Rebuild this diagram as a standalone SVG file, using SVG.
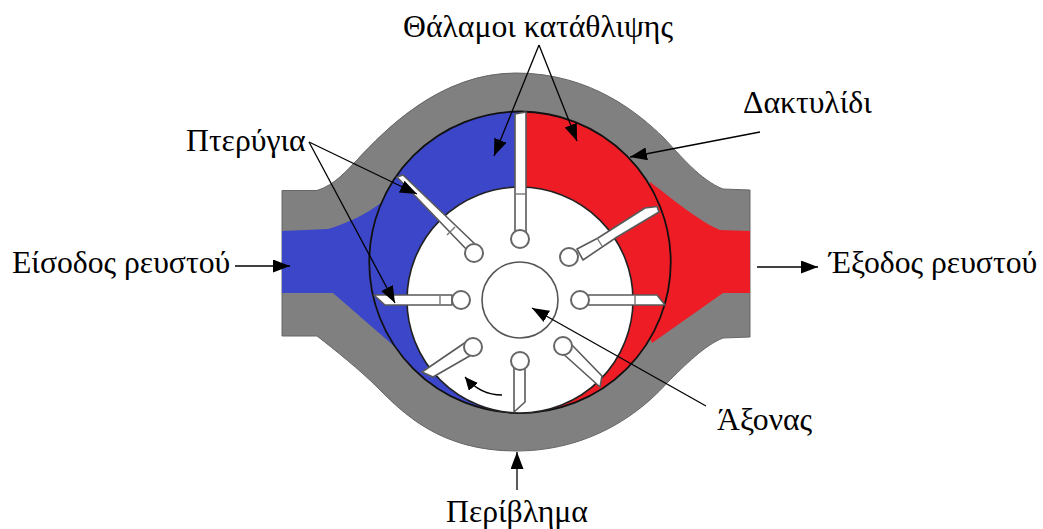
<svg xmlns="http://www.w3.org/2000/svg" width="1043" height="529" viewBox="0 0 1043 529">
<style>
text{font-family:"Liberation Serif","Times New Roman",serif;font-size:31.7px;fill:#000}
.vane{fill:#fff;stroke:#5a5a5a;stroke-width:1.6;stroke-linejoin:round}
.div{fill:none;stroke:#777;stroke-width:1.4}
.pin{fill:#fff;stroke:#666;stroke-width:2}
.conn{fill:none;stroke:#000;stroke-width:1.3}
</style>
<defs>
<marker id="ah" markerUnits="userSpaceOnUse" markerWidth="20" markerHeight="16" refX="17" refY="6.5" orient="auto">
<path d="M0 0L17 6.5L0 13Z" fill="#000"/>
</marker>
<marker id="ahs" markerUnits="userSpaceOnUse" markerWidth="16" markerHeight="14" refX="13" refY="6" orient="auto">
<path d="M0 0L13 6L0 12Z" fill="#000"/>
</marker>
</defs>
<g id="housing">
<path fill="#808080" stroke="#666" stroke-width="1" d="M282 190.5L317 190.5C335 185 347 170 357 160C385 130 440 73 516 73C592 73 640 115 663 137C680 155 700 180 723 189L750 190L750 337L723 338C705 345 685 365 667 383C650 402 600 451 516 451C440 451 403 413 377 387C360 370 335 350 317 336L282 336Z"/>
<path fill="#3c46c8" d="M282 231L328 229C345 224 365 215 381 203L420 270L394 346L333 293L282 293Z"/>
<path fill="#ee1c25" d="M750 231L720 230C700 222 670 197 650 182L620 270L652 343L723 293L750 293Z"/>
</g>
<g id="ring">
<path fill="#3c46c8" d="M520 111.5A150.75 150.75 0 0 0 520 413Z"/>
<path fill="#ee1c25" d="M520 111.5A150.75 150.75 0 0 1 520 413Z"/>
<circle cx="520" cy="262.25" r="150.75" fill="none" stroke="#111" stroke-width="1.8"/>
</g>
<g id="rotor">
<circle cx="520" cy="300" r="113" fill="#fff" stroke="#222" stroke-width="1.6"/>
</g>
<g id="vanes">
<path class="vane" d="M515 232L515 114L526 112L526 232Z"/>
<path class="div" d="M515 194H526"/>
<path class="vane" d="M468 251L397 177L403 175L477 246Z"/>
<path class="div" d="M447 235L455 227"/>
<path class="vane" d="M577 249L598 238L645 208L657 206.5L659 212L617 237L583 260Z"/>
<path class="div" d="M597 238L602 246"/>
<path class="vane" d="M374 295L452 295L452 305L385 305Z"/>
<path class="div" d="M440 295V305"/>
<path class="vane" d="M588 295L657 295L665 305L588 305Z"/>
<path class="div" d="M635 295V305"/>
<path class="vane" d="M466 342L422 372L433 377L473 354Z"/>
<path class="vane" d="M560 351L600 387L602 376L570 343Z"/>
<path class="vane" d="M514 365L514 412L525 402L525 365Z"/>
</g>
<g id="pins">
<circle class="pin" cx="520" cy="239" r="9"/>
<circle class="pin" cx="474" cy="253" r="9"/>
<circle class="pin" cx="569" cy="257" r="9"/>
<circle class="pin" cx="461" cy="300" r="9"/>
<circle class="pin" cx="580" cy="300" r="9"/>
<circle class="pin" cx="473" cy="347" r="9"/>
<circle class="pin" cx="563" cy="346" r="9"/>
<circle class="pin" cx="520" cy="361" r="9"/>
</g>
<g id="shaft"><circle cx="520" cy="300" r="38" fill="#fff" stroke="#555" stroke-width="1.6"/></g>
<g id="connectors">
<path class="conn" d="M539 45L494 156" marker-end="url(#ah)"/>
<path class="conn" d="M539 45L577 141" marker-end="url(#ah)"/>
<path class="conn" d="M309 142L417 194" marker-end="url(#ah)"/>
<path class="conn" d="M309 142L395 303" marker-end="url(#ah)"/>
<path class="conn" d="M760 132L630 157" marker-end="url(#ah)"/>
<path class="conn" d="M235 266L290 266" marker-end="url(#ah)"/>
<path class="conn" d="M757 267L818 267" marker-end="url(#ah)"/>
<path class="conn" d="M706 406L532 308" marker-end="url(#ah)"/>
<path class="conn" d="M517 490L517 452" marker-end="url(#ah)"/>
<path class="conn" d="M502 395C488 395 476 390 465 377" stroke-width="1.6" marker-end="url(#ahs)"/>
</g>
<g id="labels">
<text x="403" y="37">Θάλαμοι κατάθλιψης</text>
<text x="186" y="150.5">Πτερύγια</text>
<text x="743" y="112.5">Δακτυλίδι</text>
<text x="12" y="272.5">Είσοδος ρευστού</text>
<text x="829" y="272.5">Έξοδος ρευστού</text>
<text x="717" y="430">Άξονας</text>
<text x="446" y="521.5">Περίβλημα</text>
</g>
</svg>
